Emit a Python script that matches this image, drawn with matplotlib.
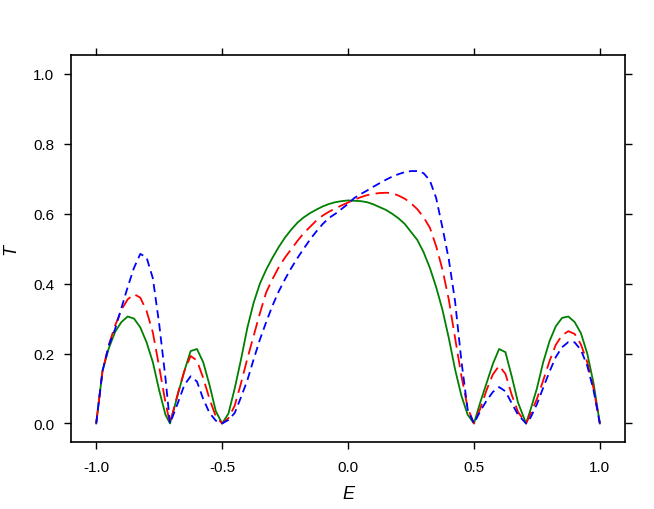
import matplotlib
matplotlib.use("Agg")
from matplotlib import pyplot as plt

plt.rcParams['font.family'] = ['Liberation Sans', 'DejaVu Sans']

# energy grid (step 0.025, with the cusps at +-0.707)
E = [-1.0, -0.975, -0.95, -0.925, -0.9, -0.875, -0.85, -0.825, -0.8, -0.775,
     -0.75, -0.725, -0.707, -0.675, -0.65, -0.625, -0.6, -0.575, -0.55, -0.525,
     -0.5, -0.475, -0.45, -0.425, -0.4, -0.375, -0.35, -0.325, -0.3, -0.275,
     -0.25, -0.225, -0.2, -0.175, -0.15, -0.125, -0.1, -0.075, -0.05, -0.025,
     0.0, 0.025, 0.05, 0.075, 0.1, 0.125, 0.15, 0.175, 0.2, 0.225,
     0.25, 0.275, 0.3, 0.325, 0.35, 0.375, 0.4, 0.425, 0.45, 0.475,
     0.5, 0.525, 0.55, 0.575, 0.6, 0.625, 0.65, 0.675, 0.707, 0.725,
     0.75, 0.775, 0.8, 0.825, 0.85, 0.875, 0.9, 0.925, 0.95, 0.975, 1.0]

T_green = [0.0, 0.150, 0.215, 0.262, 0.290, 0.306, 0.300, 0.275, 0.232, 0.175,
           0.095, 0.025, 0.0, 0.085, 0.150, 0.207, 0.213, 0.175, 0.110, 0.035,
           0.0, 0.028, 0.100, 0.183, 0.273, 0.345, 0.400, 0.440, 0.474, 0.505,
           0.532, 0.555, 0.575, 0.590, 0.602, 0.612, 0.621, 0.628, 0.633, 0.636,
           0.638, 0.637, 0.636, 0.633, 0.627, 0.619, 0.611, 0.600, 0.587, 0.571,
           0.548, 0.525, 0.490, 0.445, 0.390, 0.325, 0.245, 0.155, 0.080, 0.025,
           0.0, 0.060, 0.115, 0.170, 0.213, 0.204, 0.135, 0.060, 0.0, 0.040,
           0.100, 0.175, 0.235, 0.278, 0.302, 0.306, 0.290, 0.258, 0.200, 0.115, 0.0]

T_red = [0.0, 0.150, 0.225, 0.280, 0.325, 0.355, 0.370, 0.360, 0.322, 0.260,
         0.162, 0.060, 0.0, 0.088, 0.150, 0.193, 0.180, 0.130, 0.070, 0.020,
         0.0, 0.015, 0.051, 0.115, 0.185, 0.250, 0.315, 0.375, 0.413, 0.447,
         0.475, 0.499, 0.523, 0.545, 0.563, 0.581, 0.595, 0.606, 0.615, 0.624,
         0.632, 0.640, 0.647, 0.653, 0.657, 0.659, 0.660, 0.659, 0.652, 0.643,
         0.630, 0.613, 0.590, 0.560, 0.507, 0.440, 0.355, 0.245, 0.137, 0.045,
         0.0, 0.042, 0.095, 0.140, 0.165, 0.142, 0.082, 0.033, 0.0, 0.028,
         0.070, 0.123, 0.178, 0.225, 0.252, 0.264, 0.256, 0.226, 0.175, 0.100, 0.0]

T_blue = [0.0, 0.150, 0.223, 0.270, 0.330, 0.390, 0.445, 0.485, 0.475, 0.415,
          0.285, 0.130, 0.0, 0.060, 0.110, 0.135, 0.120, 0.070, 0.030, 0.008,
          0.0, 0.010, 0.030, 0.075, 0.123, 0.183, 0.240, 0.290, 0.337, 0.378,
          0.413, 0.445, 0.474, 0.501, 0.527, 0.550, 0.571, 0.588, 0.600, 0.614,
          0.628, 0.645, 0.656, 0.666, 0.677, 0.687, 0.697, 0.706, 0.713, 0.719,
          0.722, 0.722, 0.716, 0.695, 0.645, 0.560, 0.470, 0.350, 0.180, 0.040,
          0.0, 0.035, 0.065, 0.090, 0.104, 0.092, 0.058, 0.025, 0.0, 0.017,
          0.055, 0.102, 0.148, 0.190, 0.218, 0.233, 0.232, 0.210, 0.165, 0.095, 0.0]

xticks = [-1.0, -0.5, 0.0, 0.5, 1.0]
yticks = [0.0, 0.2, 0.4, 0.6, 0.8, 1.0]

fig = plt.figure(figsize=(6.54, 5.10), dpi=100)
ax = fig.add_axes([0.1086, 0.1314, 0.8471, 0.7588])

ax.plot(E, T_green, color='#008000', lw=1.3)
ax.plot(E, T_red, color='#ff0000', lw=1.3, dashes=(7.5, 3.5))
ax.plot(E, T_blue, color='#0000ff', lw=1.3, dashes=(4.5, 2.8))

ax.set_xlim(-1.1, 1.1)
ax.set_ylim(-0.053, 1.054)
ax.set_xticks(xticks)
ax.set_yticks(yticks)
ax.set_xticklabels(['%.1f' % v for v in xticks])
ax.set_yticklabels(['%.1f' % v for v in yticks])

ax.tick_params(direction='out', length=5, width=1, labelsize=11, color='black',
               top=True, right=True)
ax.tick_params(axis='x', pad=8)
ax.tick_params(axis='y', pad=7)
for s in ax.spines.values():
    s.set_linewidth(1.2)

ax.set_xlabel('E', fontsize=13, style='italic', labelpad=8)
ax.set_ylabel('T', fontsize=13, style='italic', labelpad=10)

fig.savefig('out.png', dpi=100)
